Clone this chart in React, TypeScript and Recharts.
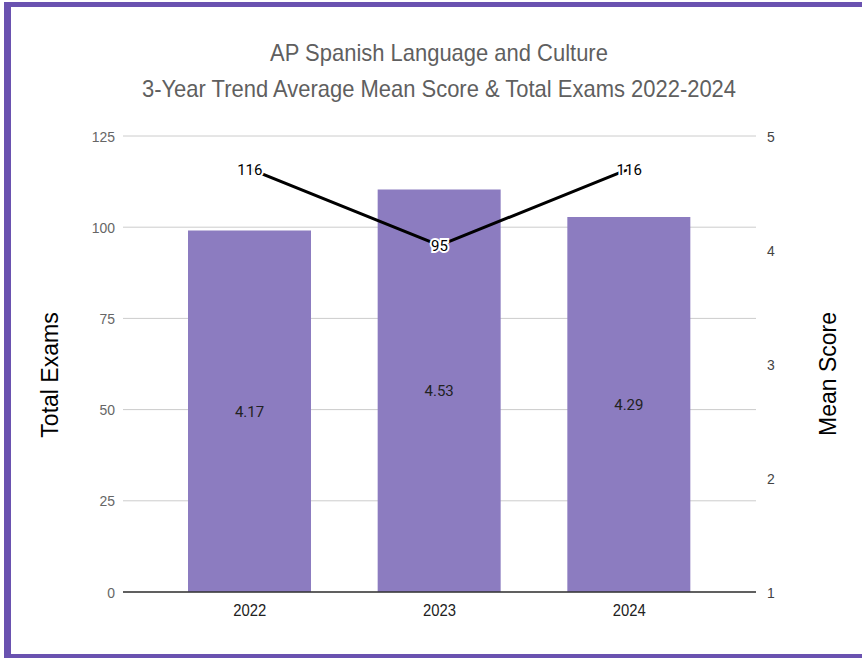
import { ComposedChart, Bar, Line, XAxis, YAxis, CartesianGrid, LabelList } from "recharts";

const years = ["2022", "2023", "2024"];
const meanScores = [4.17, 4.53, 4.29];
const totalExams = [116, 95, 116];
const examTicks = [0, 25, 50, 75, 100, 125];
const scoreTicks = [1, 2, 3, 4, 5];

const data = years.map((year, i) => ({
  year,
  mean: meanScores[i],
  exams: totalExams[i],
}));

const ARIAL = "'Liberation Sans', Arial, sans-serif";
const ROBOTO = "Roboto, 'Liberation Sans', sans-serif";

// the source picture is slightly squeezed sideways, so text is narrowed a bit
const SQUEEZE = 0.9;

const makeTick = (anchor: string, fill: string, size: number, dy: string) => (props: any) => {
  const { x, y, payload } = props;
  return (
    <g transform={`translate(${x},${y})`}>
      <text
        transform={`scale(${SQUEEZE},1)`}
        textAnchor={anchor}
        dy={dy}
        fill={fill}
        fontSize={size}
        fontFamily={ARIAL}
      >
        {payload.value}
      </text>
    </g>
  );
};

const lineLabel = (props: any) => {
  const { x, y, value } = props;
  return (
    <text
      x={x}
      y={y}
      dy={6}
      textAnchor="middle"
      fontFamily={ROBOTO}
      fontSize={15}
      fill="#000"
      stroke="#fff"
      strokeWidth={4}
      paintOrder="stroke"
    >
      {value}
    </text>
  );
};

export default function App() {
  return (
    <div
      style={{
        position: "absolute",
        left: 0,
        top: 0,
        width: 862,
        height: 658,
        background: "#fff",
        overflow: "hidden",
      }}
    >
      <div
        style={{
          position: "absolute",
          left: 4,
          top: 2,
          width: 870,
          height: 656,
          boxSizing: "border-box",
          borderLeft: "7px solid #6a52b0",
          borderTop: "5px solid #6a52b0",
          borderBottom: "4px solid #6a52b0",
        }}
      />
      <div
        style={{
          position: "absolute",
          left: 39,
          top: 35,
          width: 800,
          textAlign: "center",
          fontFamily: ARIAL,
          fontSize: 24,
          lineHeight: "36px",
          color: "#5f5f5f",
          transform: "scaleX(0.915)",
        }}
      >
        <div>AP Spanish Language and Culture</div>
        <div>3-Year Trend Average Mean Score &amp; Total Exams 2022-2024</div>
      </div>
      <div
        style={{
          position: "absolute",
          left: 50,
          top: 375,
          transform: "translate(-50%, -50%) rotate(-90deg)",
          fontFamily: ARIAL,
          fontSize: 23,
          color: "#000",
          whiteSpace: "nowrap",
        }}
      >
        Total Exams
      </div>
      <div
        style={{
          position: "absolute",
          left: 828,
          top: 374,
          transform: "translate(-50%, -50%) rotate(-90deg)",
          fontFamily: ARIAL,
          fontSize: 23,
          color: "#000",
          whiteSpace: "nowrap",
        }}
      >
        Mean Score
      </div>
      <div style={{ position: "absolute", left: 0, top: 0 }}>
        <ComposedChart
          width={862}
          height={658}
          data={data}
          margin={{ top: 136, right: 46, bottom: 36, left: 63 }}
        >
          <CartesianGrid vertical={false} stroke="#cccccc" yAxisId="left" />
          <XAxis
            dataKey="year"
            height={30}
            padding={{ left: 32, right: 32 }}
            axisLine={{ stroke: "#333", strokeWidth: 1.5 }}
            tickLine={false}
            tickSize={0}
            tickMargin={12}
            tick={makeTick("middle", "#222", 16.5, "0.71em")}
          />
          <YAxis
            yAxisId="left"
            orientation="left"
            width={60}
            domain={[0, 125]}
            ticks={examTicks}
            axisLine={false}
            tickLine={false}
            tickSize={0}
            tickMargin={8}
            tick={makeTick("end", "#666", 15.5, "0.355em")}
          />
          <YAxis
            yAxisId="right"
            orientation="right"
            width={60}
            domain={[1, 5]}
            ticks={scoreTicks}
            allowDataOverflow
            axisLine={false}
            tickLine={false}
            tickSize={0}
            tickMargin={11}
            tick={makeTick("start", "#444", 15.5, "0.355em")}
          />
          <Bar
            yAxisId="right"
            dataKey="mean"
            fill="#8c7cc0"
            barSize={123}
            isAnimationActive={false}
          >
            <LabelList
              dataKey="mean"
              position="center"
              fill="#222"
              fontSize={15}
              fontFamily={ROBOTO}
            />
          </Bar>
          <Line
            yAxisId="left"
            dataKey="exams"
            stroke="#000"
            strokeWidth={3}
            dot={false}
            activeDot={false}
            isAnimationActive={false}
          >
            <LabelList dataKey="exams" content={lineLabel} />
          </Line>
        </ComposedChart>
      </div>
    </div>
  );
}
